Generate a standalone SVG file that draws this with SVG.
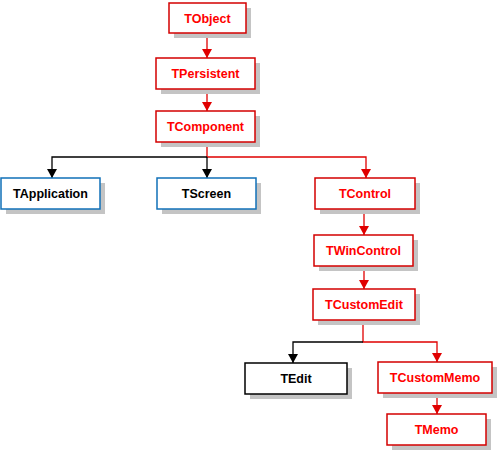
<svg xmlns="http://www.w3.org/2000/svg" width="498" height="450" viewBox="0 0 498 450">
<defs>
<style>
.sh{fill:#c4c4c4}
.bx{fill:#fff;stroke-width:1.5}
.r .bx{stroke:#d40000}
.b .bx{stroke:#1070b8}
.k .bx{stroke:#000}
text{font-family:"Liberation Sans",Arial,sans-serif;font-weight:bold;font-size:12.5px;text-anchor:middle}
.r text{fill:#ff0000}
.b text,.k text{fill:#000}
.lr{stroke:#e00000;fill:none;stroke-width:1.3}
.lk{stroke:#000;fill:none;stroke-width:1.3}
</style>
<marker id="ar" markerWidth="10" markerHeight="10" refX="9" refY="5" orient="auto" markerUnits="userSpaceOnUse"><path d="M0,0 L9,5 L0,10 Z" fill="#e00000"/></marker>
<marker id="ak" markerWidth="10" markerHeight="10" refX="9" refY="5" orient="auto" markerUnits="userSpaceOnUse"><path d="M0,0 L9,5 L0,10 Z" fill="#000"/></marker>
</defs>
<g id="connectors">
<path class="lr" d="M207,33 V58" marker-end="url(#ar)"/>
<path class="lr" d="M207,89 V111" marker-end="url(#ar)"/>
<path class="lr" d="M207,142 V157 H366 V178" marker-end="url(#ar)"/>
<path class="lk" d="M207,157 H52 V178" marker-end="url(#ak)"/>
<path class="lk" d="M207,157 V178" marker-end="url(#ak)"/>
<path class="lr" d="M364,209 V235" marker-end="url(#ar)"/>
<path class="lr" d="M364,266 V289" marker-end="url(#ar)"/>
<path class="lr" d="M363,320 V342 H437 V362" marker-end="url(#ar)"/>
<path class="lk" d="M363,342 H293 V363" marker-end="url(#ak)"/>
<path class="lr" d="M437,393 V414" marker-end="url(#ar)"/>
</g>
<g id="TObject" class="r"><rect class="sh" x="174" y="8" width="77" height="30"/><rect class="bx" x="169" y="3" width="77" height="30"/><text x="207.5" y="22.5">TObject</text></g>
<g id="TPersistent" class="r"><rect class="sh" x="161" y="63" width="99" height="31"/><rect class="bx" x="156" y="58" width="99" height="31"/><text x="205.5" y="78">TPersistent</text></g>
<g id="TComponent" class="r"><rect class="sh" x="161" y="116" width="99" height="31"/><rect class="bx" x="156" y="111" width="99" height="31"/><text x="205.5" y="131">TComponent</text></g>
<g id="TApplication" class="b"><rect class="sh" x="6" y="183" width="99" height="31"/><rect class="bx" x="1" y="178" width="99" height="31"/><text x="50.5" y="198">TApplication</text></g>
<g id="TScreen" class="b"><rect class="sh" x="162" y="183" width="99" height="31"/><rect class="bx" x="157" y="178" width="99" height="31"/><text x="206.5" y="198">TScreen</text></g>
<g id="TControl" class="r"><rect class="sh" x="320" y="183" width="100" height="31"/><rect class="bx" x="315" y="178" width="100" height="31"/><text x="365" y="198">TControl</text></g>
<g id="TWinControl" class="r"><rect class="sh" x="319" y="240" width="99" height="31"/><rect class="bx" x="314" y="235" width="99" height="31"/><text x="363.5" y="255">TWinControl</text></g>
<g id="TCustomEdit" class="r"><rect class="sh" x="318" y="294" width="102" height="31"/><rect class="bx" x="313" y="289" width="102" height="31"/><text x="364" y="309">TCustomEdit</text></g>
<g id="TEdit" class="k"><rect class="sh" x="250" y="368" width="102" height="31"/><rect class="bx" x="245" y="363" width="102" height="31"/><text x="296" y="383">TEdit</text></g>
<g id="TCustomMemo" class="r"><rect class="sh" x="383" y="367" width="114" height="31"/><rect class="bx" x="378" y="362" width="114" height="31"/><text x="435" y="382">TCustomMemo</text></g>
<g id="TMemo" class="r"><rect class="sh" x="392" y="419" width="99" height="31"/><rect class="bx" x="387" y="414" width="99" height="31"/><text x="436.5" y="434">TMemo</text></g>
</svg>
